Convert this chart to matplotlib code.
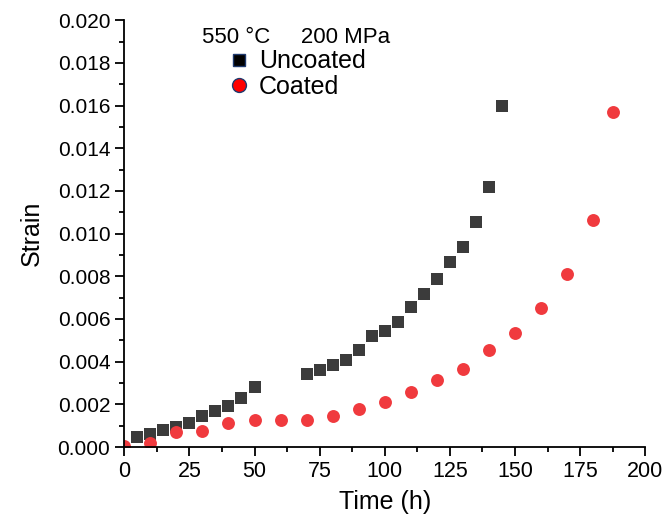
import matplotlib
matplotlib.use('Agg')
import matplotlib.pyplot as plt
from matplotlib.lines import Line2D
from matplotlib.ticker import MultipleLocator

plt.rcParams['font.family'] = ['Liberation Sans', 'DejaVu Sans']

# uncoated specimen
t_unc = [5, 10, 15, 20, 25, 30, 35, 40, 45, 50,
         70, 75, 80, 85, 90, 95, 100, 105, 110, 115,
         120, 125, 130, 135, 140, 145]
e_unc = [0.00048, 0.00061, 0.00080, 0.00092, 0.00114, 0.00145, 0.00169, 0.00192, 0.00228, 0.00283,
         0.00341, 0.00361, 0.00384, 0.00407, 0.00454, 0.00520, 0.00542, 0.00585, 0.00658, 0.00716,
         0.00788, 0.00866, 0.00936, 0.01053, 0.01220, 0.01596]

# coated specimen
t_coat = [0, 10, 20, 30, 40, 50, 60, 70, 80, 90,
          100, 110, 120, 130, 140, 150, 160, 170, 180, 187.7]
e_coat = [0.00006, 0.00017, 0.00072, 0.00076, 0.00114, 0.00127, 0.00127, 0.00127, 0.00147, 0.00177,
          0.00212, 0.00256, 0.00314, 0.00366, 0.00456, 0.00533, 0.00650, 0.00811, 0.01064, 0.01569]

fig = plt.figure(figsize=(6.68, 5.18), dpi=100)
ax = fig.add_axes([0.186, 0.137, 0.780, 0.824])

ax.plot(t_unc, e_unc, 's', color='#3b3b3b', markersize=9.3, markeredgewidth=0)
ax.plot(t_coat, e_coat, 'o', color='#f03a3e', markersize=9.3, markeredgewidth=0)

ax.set_xlim(0, 200)
ax.set_ylim(0, 0.020)
ax.xaxis.set_major_locator(MultipleLocator(25))
ax.xaxis.set_minor_locator(MultipleLocator(12.5))
ax.yaxis.set_major_locator(MultipleLocator(0.002))
ax.yaxis.set_minor_locator(MultipleLocator(0.001))
ax.yaxis.set_major_formatter(plt.FormatStrFormatter('%.3f'))

for s in ['top', 'right']:
    ax.spines[s].set_visible(False)
for s in ['left', 'bottom']:
    ax.spines[s].set_linewidth(1.3)
ax.tick_params(which='major', direction='out', length=6.5, width=1.3, labelsize=15)
ax.tick_params(axis='x', which='major', labelsize=15.5)
ax.tick_params(which='minor', direction='out', length=3.5, width=1.3)

ax.set_xlabel('Time (h)', fontsize=18, labelpad=6)
ax.set_ylabel('Strain', fontsize=18, labelpad=10)

ax.text(0.15, 0.985, '550 °C     200 MPa', transform=ax.transAxes,
        fontsize=16, ha='left', va='top')

handles = [
    Line2D([], [], ls='none', marker='s', color='black', markeredgecolor='#1f3a6e',
           markersize=8, markeredgewidth=1),
    Line2D([], [], ls='none', marker='o', color='#ff0000', markeredgecolor='#1f3a6e',
           markersize=10, markeredgewidth=1),
]
ax.legend(handles, ['Uncoated', 'Coated'], loc='upper left', bbox_to_anchor=(0.172, 0.955),
          frameon=False, fontsize=18, handletextpad=0.2, borderaxespad=0,
          labelspacing=0.05, handlelength=1.2)

fig.savefig('out.png', dpi=100)
